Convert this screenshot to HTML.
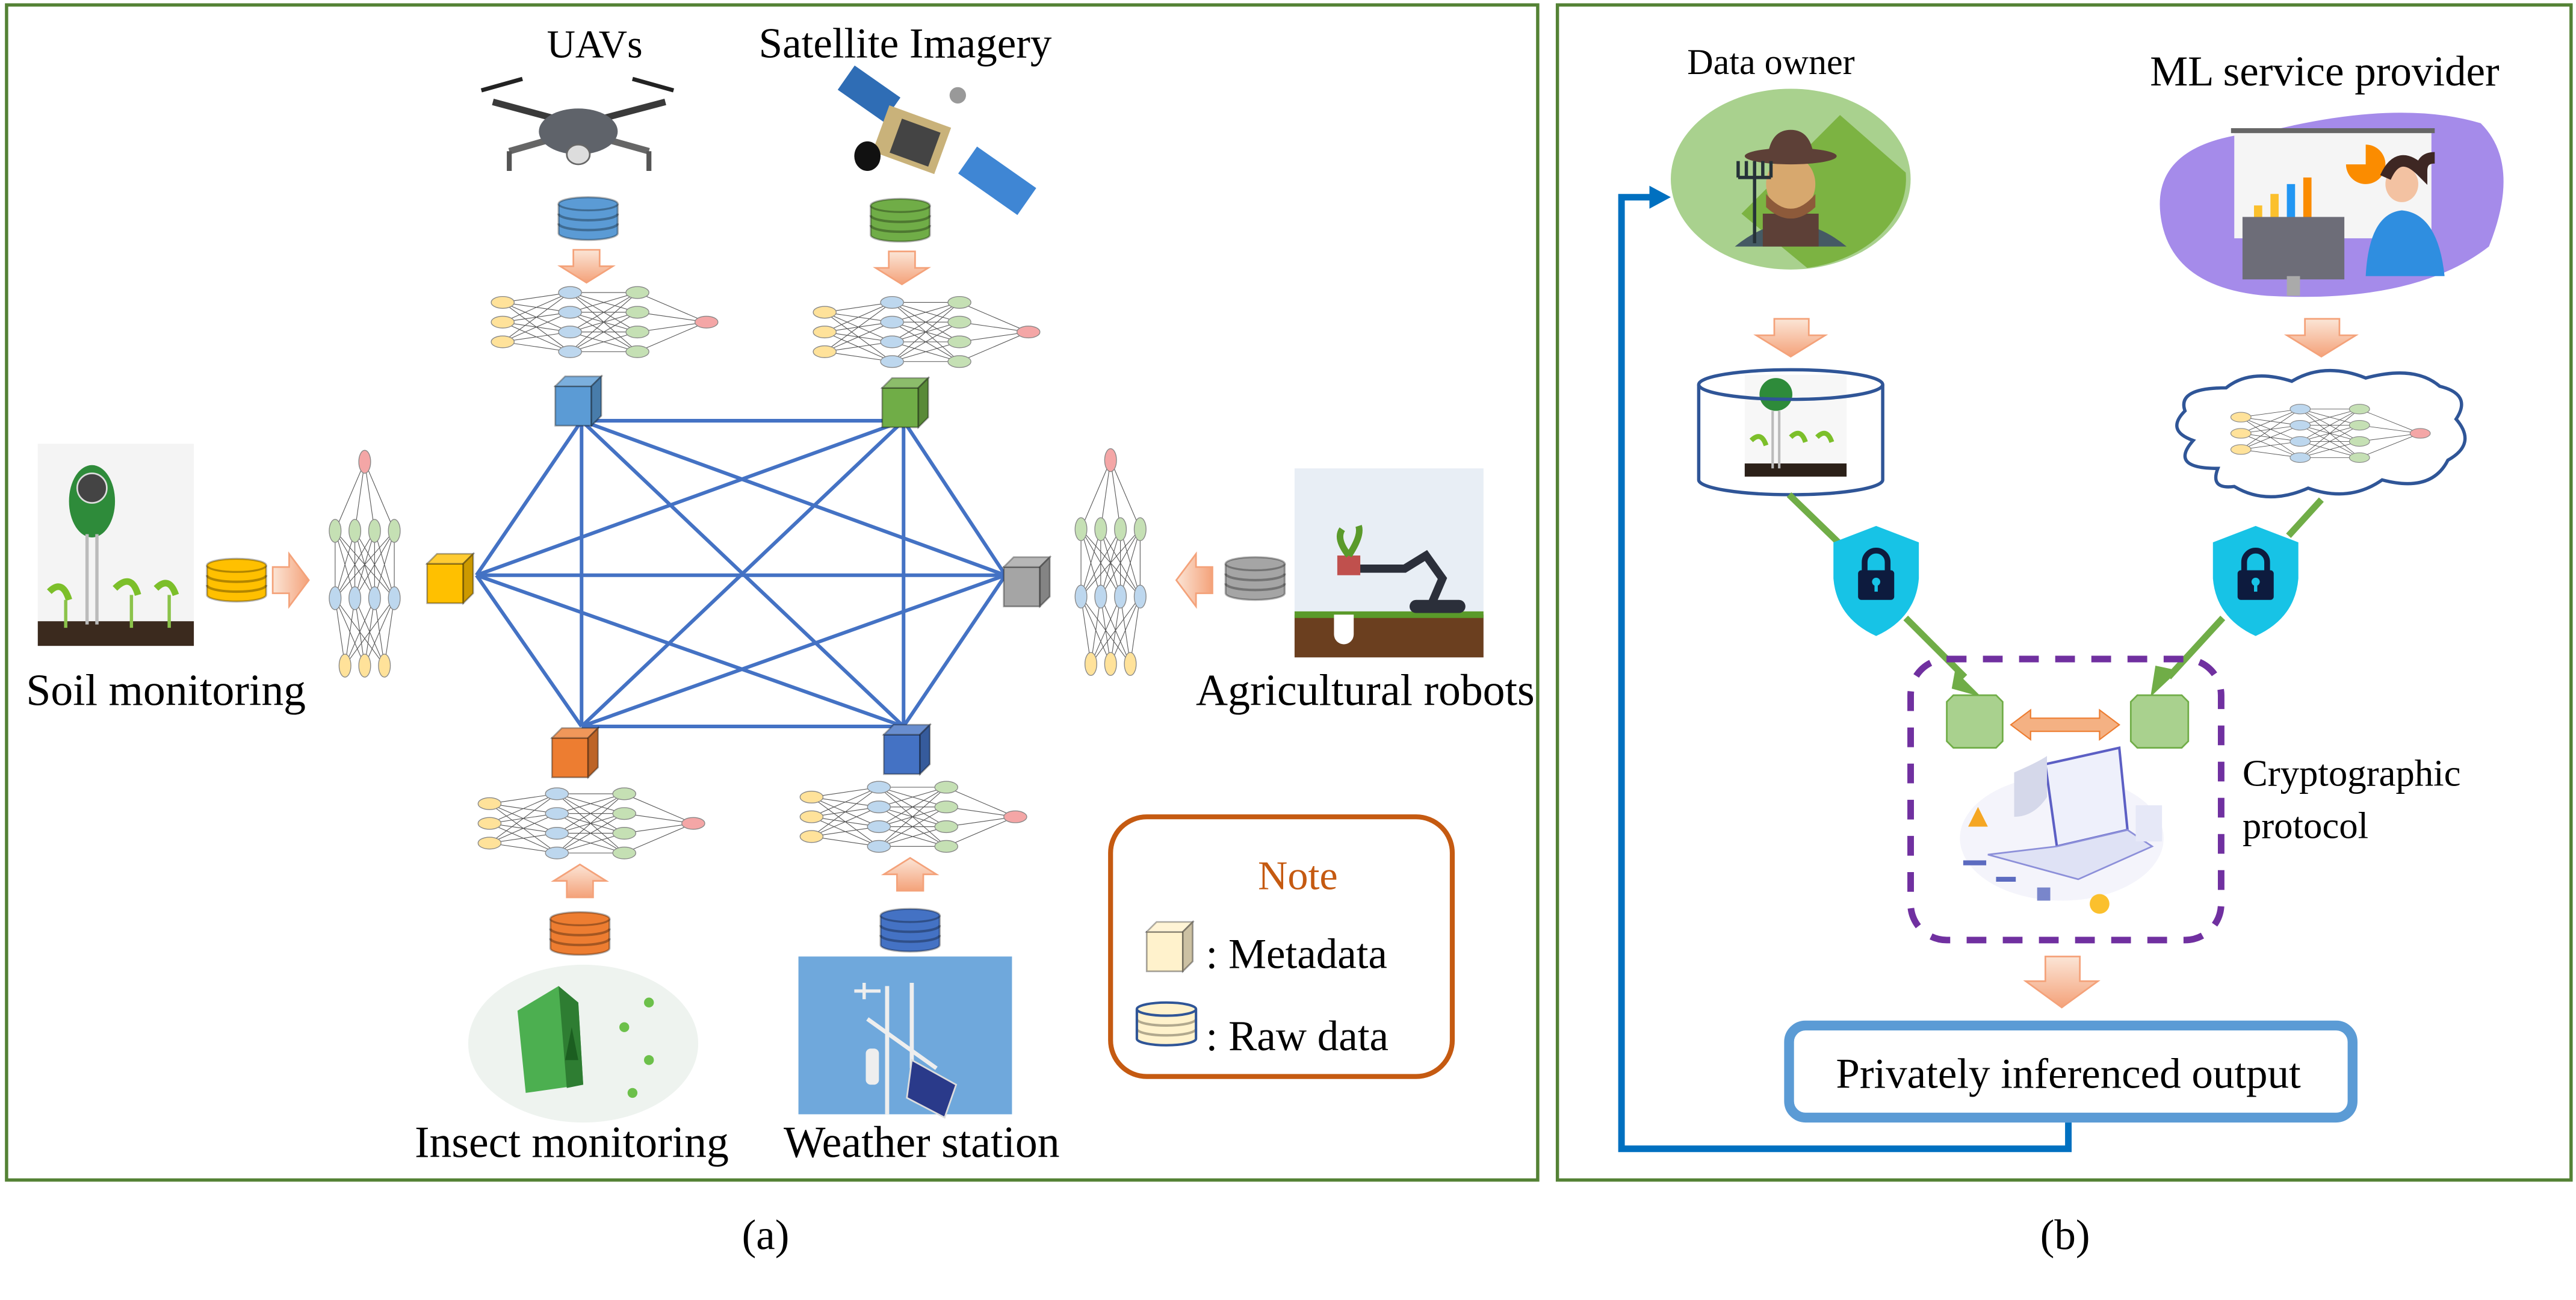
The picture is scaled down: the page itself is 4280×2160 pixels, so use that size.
<!DOCTYPE html>
<html><head><meta charset="utf-8"><style>
html,body{margin:0;padding:0;background:#fff;}
svg{display:block;}
text{font-family:"Liberation Serif",serif;fill:#000;}
</style></head><body>
<svg width="4280" height="2160" viewBox="0 0 1568 791" xmlns="http://www.w3.org/2000/svg" preserveAspectRatio="none">
<defs>
  <linearGradient id="ag" x1="0" y1="0" x2="0" y2="1"><stop offset="0" stop-color="#fbe5d6"/><stop offset="1" stop-color="#f4a27a"/></linearGradient>
  <linearGradient id="agh" x1="0" y1="0" x2="1" y2="0"><stop offset="0" stop-color="#fbe5d6"/><stop offset="1" stop-color="#f4a27a"/></linearGradient>
  <g id="cyl">
    <path d="M0,4 v18 a18,4 0 0 0 36,0 v-18" fill="currentColor" stroke="rgba(0,0,0,0.3)" stroke-width="1.2"/>
    <ellipse cx="18" cy="4" rx="18" ry="4" fill="currentColor" stroke="rgba(0,0,0,0.3)" stroke-width="1.2"/>
    <path d="M0,10 a18,4 0 0 0 36,0 M0,16 a18,4 0 0 0 36,0" fill="none" stroke="rgba(0,0,0,0.3)" stroke-width="1.5"/>
  </g>
  <g id="cube">
    <rect x="0" y="6" width="22" height="24" fill="currentColor" stroke="rgba(0,0,0,0.35)" stroke-width="1"/>
    <path d="M0,6 L6,0 H28 L22,6 Z" fill="currentColor" stroke="rgba(0,0,0,0.35)" stroke-width="1"/>
    <path d="M0,6 L6,0 H28 L22,6 Z" fill="#fff" opacity="0.2"/>
    <path d="M22,6 L28,0 V24 L22,30 Z" fill="currentColor" stroke="rgba(0,0,0,0.35)" stroke-width="1"/>
    <path d="M22,6 L28,0 V24 L22,30 Z" fill="#000" opacity="0.2"/>
  </g>
  <g id="darr"><path d="M8,0 H24 V10 H32 L16,20 L0,10 H8 Z" fill="url(#ag)" stroke="#f4a27a" stroke-width="1"/></g>
  <g id="nn">
    <path fill="none" stroke="#555" stroke-width="0.4" d="M8 12L49 6M8 12L49 18M8 12L49 30M8 12L49 42M8 24L49 6M8 24L49 18M8 24L49 30M8 24L49 42M8 36L49 6M8 36L49 18M8 36L49 30M8 36L49 42M49 6L90 6M49 6L90 18M49 6L90 30M49 6L90 42M49 18L90 6M49 18L90 18M49 18L90 30M49 18L90 42M49 30L90 6M49 30L90 18M49 30L90 30M49 30L90 42M49 42L90 6M49 42L90 18M49 42L90 30M49 42L90 42M90 6L132 24M90 18L132 24M90 30L132 24M90 42L132 24"/>
    <g stroke="#888" stroke-width="0.5">
    <ellipse cx="8" cy="12" rx="7" ry="3.6" fill="#ffe29a"/><ellipse cx="8" cy="24" rx="7" ry="3.6" fill="#ffe29a"/><ellipse cx="8" cy="36" rx="7" ry="3.6" fill="#ffe29a"/>
    <ellipse cx="49" cy="6" rx="7" ry="3.6" fill="#bdd7ee"/><ellipse cx="49" cy="18" rx="7" ry="3.6" fill="#bdd7ee"/><ellipse cx="49" cy="30" rx="7" ry="3.6" fill="#bdd7ee"/><ellipse cx="49" cy="42" rx="7" ry="3.6" fill="#bdd7ee"/>
    <ellipse cx="90" cy="6" rx="7" ry="3.6" fill="#c5e0b4"/><ellipse cx="90" cy="18" rx="7" ry="3.6" fill="#c5e0b4"/><ellipse cx="90" cy="30" rx="7" ry="3.6" fill="#c5e0b4"/><ellipse cx="90" cy="42" rx="7" ry="3.6" fill="#c5e0b4"/>
    <ellipse cx="132" cy="24" rx="7" ry="3.6" fill="#f4a6a6"/>
    </g>
  </g>
</defs>

<rect x="4" y="3" width="932" height="715" fill="none" stroke="#548235" stroke-width="2"/>
<rect x="948" y="3" width="617" height="715" fill="none" stroke="#548235" stroke-width="2"/>
<text x="466" y="760" font-size="26" text-anchor="middle">(a)</text>
<text x="1257" y="760" font-size="26" text-anchor="middle">(b)</text>

<!-- ===== Panel A ===== -->
<text x="362" y="35" font-size="24" text-anchor="middle">UAVs</text>
<text x="551" y="35" font-size="26" text-anchor="middle">Satellite Imagery</text>

<g>
  <path d="M300,62 L352,76 L405,62" stroke="#3a3a3a" stroke-width="4" fill="none"/>
  <path d="M310,92 L352,80 L395,92" stroke="#666" stroke-width="4" fill="none"/>
  <ellipse cx="352" cy="80" rx="24" ry="14" fill="#5f636a"/>
  <ellipse cx="352" cy="94" rx="7" ry="6" fill="#ddd" stroke="#666"/>
  <path d="M293,55 l25,-7 M385,48 l25,7" stroke="#222" stroke-width="2.5"/>
  <path d="M310,92 v12 M395,92 v12" stroke="#555" stroke-width="3"/>
</g>
<g>
  <rect x="512" y="48" width="34" height="18" fill="#2f6db5" transform="rotate(35 529 57)"/>
  <rect x="585" y="100" width="44" height="20" fill="#3f86d4" transform="rotate(35 607 110)"/>
  <rect x="535" y="70" width="40" height="30" fill="#c9b27a" transform="rotate(20 555 85)"/>
  <rect x="545" y="75" width="25" height="22" fill="#444" transform="rotate(20 555 85)"/>
  <ellipse cx="528" cy="95" rx="8" ry="9" fill="#111"/>
  <circle cx="583" cy="58" r="5" fill="#999"/>
</g>

<use href="#cyl" x="340" y="120" color="#5b9bd5"/>
<use href="#cyl" x="530" y="121" color="#70ad47"/>
<use href="#darr" x="341" y="152"/>
<use href="#darr" x="533" y="153"/>
<use href="#nn" x="298" y="172"/>
<use href="#nn" x="494" y="178"/>

<g stroke="#4472c4" stroke-width="2.2">
  <line x1="354" y1="256" x2="550" y2="256"/><line x1="354" y1="256" x2="290" y2="350"/><line x1="354" y1="256" x2="612" y2="350"/><line x1="354" y1="256" x2="354" y2="442"/><line x1="354" y1="256" x2="550" y2="442"/>
  <line x1="550" y1="256" x2="290" y2="350"/><line x1="550" y1="256" x2="612" y2="350"/><line x1="550" y1="256" x2="354" y2="442"/><line x1="550" y1="256" x2="550" y2="442"/>
  <line x1="290" y1="350" x2="612" y2="350"/><line x1="290" y1="350" x2="354" y2="442"/><line x1="290" y1="350" x2="550" y2="442"/>
  <line x1="612" y1="350" x2="354" y2="442"/><line x1="612" y1="350" x2="550" y2="442"/>
  <line x1="354" y1="442" x2="550" y2="442"/>
</g>
<use href="#cube" x="338" y="229" color="#5b9bd5"/>
<use href="#cube" x="537" y="230" color="#70ad47"/>
<use href="#cube" x="260" y="337" color="#ffc000"/>
<use href="#cube" x="611" y="339" color="#a5a5a5"/>
<use href="#cube" x="336" y="443" color="#ed7d31"/>
<use href="#cube" x="538" y="441" color="#4472c4"/>

<rect x="23" y="270" width="95" height="123" fill="#f4f4f4"/>
<rect x="23" y="378" width="95" height="15" fill="#3b2a1e"/>
<ellipse cx="56" cy="305" rx="14" ry="22" fill="#2e8b3a"/>
<circle cx="56" cy="297" r="9" fill="#444" stroke="#ddd"/>
<path d="M53,325 V380 M59,325 V380" stroke="#bbb" stroke-width="2"/>
<path d="M30,360 q8,-8 12,5 M70,358 q10,-10 14,4 M95,358 q8,-8 12,4" stroke="#7cbf2a" stroke-width="4" fill="none"/>
<path d="M40,365 V382 M80,362 V382 M103,362 V382" stroke="#8bc34a" stroke-width="2"/>
<text x="101" y="429" font-size="27" text-anchor="middle">Soil monitoring</text>
<use href="#cyl" x="126" y="340" color="#ffc000"/>
<path d="M166,345 H176 V337 L188,353 L176,369 V361 H166 Z" fill="url(#agh)" stroke="#f4a27a"/>
<use href="#nn" transform="translate(198,413) rotate(-90)"/>

<rect x="788" y="285" width="115" height="115" fill="#e8eef5"/>
<rect x="788" y="374" width="115" height="26" fill="#6b3f1f"/>
<rect x="788" y="372" width="115" height="4" fill="#5a9a2a"/>
<path d="M812,374 v12 a6,6 0 0 0 12,0 v-12 Z" fill="#fff"/>
<path d="M826,346 H855 L868,338 L878,352 L872,366" stroke="#2b2f3a" stroke-width="5" fill="none"/>
<rect x="858" y="365" width="34" height="8" rx="4" fill="#2b2f3a"/>
<rect x="814" y="338" width="14" height="12" fill="#c0504d"/>
<path d="M821,338 q-8,-10 -4,-16 M821,338 q8,-12 6,-18" stroke="#5a9a2a" stroke-width="4" fill="none"/>
<text x="831" y="429" font-size="27" text-anchor="middle">Agricultural robots</text>
<use href="#cyl" x="746" y="339" color="#a5a5a5"/>
<path d="M738,345 H728 V337 L716,353 L728,369 V361 H738 Z" fill="url(#agh)" stroke="#f4a27a"/>
<use href="#nn" transform="translate(652,412) rotate(-90)"/>

<use href="#nn" x="290" y="477"/>
<use href="#nn" x="486" y="473"/>
<path d="M345,546 V536 H337 L353,526 L369,536 H361 V546 Z" fill="url(#ag)" stroke="#f4a27a"/>
<path d="M546,542 V532 H538 L554,522 L570,532 H562 V542 Z" fill="url(#ag)" stroke="#f4a27a"/>
<use href="#cyl" x="335" y="555" color="#ed7d31"/>
<use href="#cyl" x="536" y="553" color="#4472c4"/>

<ellipse cx="355" cy="635" rx="70" ry="48" fill="#eef3ef"/>
<path d="M315,615 L340,600 L352,610 L355,660 L320,665 Z" fill="#4caf50"/>
<path d="M340,600 L352,610 L355,660 L345,662 Z" fill="#2e7d32"/>
<path d="M344,645 L348,625 L352,645 Z" fill="#1b5e20"/>
<circle cx="380" cy="625" r="3" fill="#6cc04a"/><circle cx="395" cy="610" r="3" fill="#6cc04a"/><circle cx="395" cy="645" r="3" fill="#6cc04a"/><circle cx="385" cy="665" r="3" fill="#6cc04a"/>
<text x="348" y="704" font-size="27" text-anchor="middle">Insect monitoring</text>

<rect x="486" y="582" width="130" height="96" fill="#6fa8dc"/>
<path d="M540,600 V678 M528,620 L570,650 M555,598 V650" stroke="#eee" stroke-width="2.5" fill="none"/>
<rect x="527" y="638" width="8" height="22" rx="3" fill="#eee"/>
<path d="M555,645 L582,660 L575,680 L552,668 Z" fill="#2a3a8a" stroke="#ddd"/>
<path d="M520,603 h16 M526,598 v10" stroke="#eee" stroke-width="2"/>
<text x="561" y="704" font-size="27" text-anchor="middle">Weather station</text>

<rect x="676" y="497" width="208" height="158" rx="22" fill="#fff" stroke="#c55a11" stroke-width="3"/>
<text x="790" y="541" font-size="25" text-anchor="middle" style="fill:#c55a11">Note</text>
<use href="#cube" x="698" y="561" color="#fff2cc"/>
<text x="734" y="589" font-size="26">:  Metadata</text>
<g transform="translate(692,610)"><use href="#cyl" color="#fff2cc"/></g>
<path d="M692,614 v18 a18,4 0 0 0 36,0 v-18 M692,614 a18,4 0 0 0 36,0 a18,4 0 0 0 -36,0" fill="none" stroke="#2f5597" stroke-width="1.5"/>
<text x="734" y="639" font-size="26">: Raw data</text>

<!-- ===== Panel B ===== -->
<text x="1078" y="45" font-size="22" text-anchor="middle">Data owner</text>
<text x="1415" y="52" font-size="26" text-anchor="middle">ML service provider</text>

<ellipse cx="1090" cy="109" rx="73" ry="55" fill="#a9d18e"/>
<path d="M1120,70 L1160,105 A73,55 0 0 1 1100,163 L1060,130 Z" fill="#7cb342"/>
<path d="M1056,150 q34,-28 68,0 Z" fill="#455a64"/>
<rect x="1073" y="130" width="34" height="20" fill="#5d4037"/>
<ellipse cx="1090" cy="112" rx="15" ry="17" fill="#d7a86e"/>
<path d="M1075,118 q15,18 30,0 v8 q-15,14 -30,0 Z" fill="#8d5a3a"/>
<ellipse cx="1090" cy="95" rx="28" ry="5" fill="#5d4037"/>
<path d="M1076,95 q2,-16 14,-16 q12,0 14,16 Z" fill="#5d4037"/>
<path d="M1068,148 V108 M1058,108 h20 M1058,108 v-10 M1063,108 v-10 M1068,108 v-10 M1073,108 v-10 M1078,108 v-10" stroke="#263238" stroke-width="2" fill="none"/>

<path d="M1315,130 Q1310,85 1380,80 Q1460,60 1510,75 Q1535,100 1515,150 Q1470,185 1380,180 Q1320,175 1315,130 Z" fill="#a58bea"/>
<rect x="1360" y="80" width="120" height="65" fill="#f5f5f5"/>
<rect x="1358" y="78" width="124" height="3" fill="#666"/>
<rect x="1372" y="125" width="5" height="10" fill="#fbc02d"/><rect x="1382" y="118" width="5" height="17" fill="#fbc02d"/><rect x="1392" y="112" width="5" height="23" fill="#2196f3"/><rect x="1402" y="108" width="5" height="27" fill="#fb8c00"/>
<path d="M1440,100 L1440,88 A12,12 0 1 1 1428,100 Z" fill="#fb8c00"/>
<rect x="1365" y="132" width="62" height="38" fill="#6d6d78"/>
<rect x="1392" y="168" width="8" height="12" fill="#aaa"/>
<ellipse cx="1462" cy="112" rx="10" ry="11" fill="#f3c2a2"/>
<path d="M1452,108 q8,-18 22,-4 q0,-8 8,-8" stroke="#3e2723" stroke-width="7" fill="none"/>
<path d="M1440,168 q2,-38 22,-40 q22,2 26,40 Z" fill="#2f8ee0"/>

<path d="M1080,194 H1101 V204 H1111 L1090,217 L1069,204 H1080 Z" fill="url(#ag)" stroke="#f4a27a"/>
<path d="M1403,194 H1424 V204 H1434 L1413,217 L1392,204 H1403 Z" fill="url(#ag)" stroke="#f4a27a"/>

<path d="M1034,234 v58 a56,9 0 0 0 112,0 v-58" fill="#fff" stroke="#2f5597" stroke-width="2"/>
<rect x="1062" y="228" width="62" height="62" fill="#f7f7f7"/>
<rect x="1062" y="282" width="62" height="8" fill="#2b2018"/>
<ellipse cx="1081" cy="240" rx="10" ry="10" fill="#2e8b3a"/>
<path d="M1079,250 V285 M1083,250 V285" stroke="#bbb" stroke-width="1.5"/>
<path d="M1066,268 q6,-6 9,3 M1090,266 q6,-6 9,3 M1106,266 q6,-6 9,3" stroke="#7cbf2a" stroke-width="3" fill="none"/>
<ellipse cx="1090" cy="234" rx="56" ry="9" fill="none" stroke="#2f5597" stroke-width="2"/>

<path d="M1350,285 Q1320,285 1335,268 Q1318,262 1330,250 Q1325,236 1355,236 Q1370,224 1395,232 Q1415,220 1440,230 Q1470,222 1485,235 Q1505,240 1495,255 Q1508,270 1490,280 Q1480,300 1450,292 Q1430,306 1405,297 Q1380,308 1360,296 Q1345,298 1350,285 Z" fill="#fff" stroke="#2f5597" stroke-width="2"/>
<use href="#nn" transform="translate(1357,244) scale(0.88,0.82)"/>

<g stroke="#70ad47" stroke-width="4" fill="none">
  <line x1="1089" y1="301" x2="1119" y2="330"/>
  <line x1="1160" y1="376" x2="1196" y2="412"/>
  <line x1="1413" y1="304" x2="1393" y2="326"/>
  <line x1="1353" y1="376" x2="1320" y2="412"/>
</g>
<path d="M1190,408 L1206,424 L1188,419 Z" fill="#70ad47"/>
<path d="M1326,408 L1309,424 L1312,405 Z" fill="#70ad47"/>
<g>
  <path d="M1142,320 L1168,330 V352 Q1166,376 1142,387 Q1118,376 1116,352 V330 Z" fill="#17c3e6"/>
  <rect x="1131" y="347" width="22" height="18" rx="2" fill="#0d1b3e"/>
  <path d="M1135,348 v-6 a7,7 0 0 1 14,0 v6" stroke="#0d1b3e" stroke-width="3.5" fill="none"/>
  <circle cx="1142" cy="354" r="2.5" fill="#17c3e6"/><rect x="1141" y="355" width="2" height="5" fill="#17c3e6"/>
</g>
<g transform="translate(231,0)">
  <path d="M1142,320 L1168,330 V352 Q1166,376 1142,387 Q1118,376 1116,352 V330 Z" fill="#17c3e6"/>
  <rect x="1131" y="347" width="22" height="18" rx="2" fill="#0d1b3e"/>
  <path d="M1135,348 v-6 a7,7 0 0 1 14,0 v6" stroke="#0d1b3e" stroke-width="3.5" fill="none"/>
  <circle cx="1142" cy="354" r="2.5" fill="#17c3e6"/><rect x="1141" y="355" width="2" height="5" fill="#17c3e6"/>
</g>

<rect x="1163" y="401" width="189" height="171" rx="22" fill="none" stroke="#7030a0" stroke-width="4" stroke-dasharray="12,10"/>
<path d="M1189,423 H1215 L1219,427 V451 L1215,455 H1189 L1185,451 V427 Z" fill="#a9d18e" stroke="#70ad47"/>
<path d="M1301,423 H1328 L1332,427 V451 L1328,455 H1301 L1297,451 V427 Z" fill="#a9d18e" stroke="#70ad47"/>
<path d="M1224,441 L1236,432 V437 H1278 V432 L1290,441 L1278,450 V445 H1236 V450 Z" fill="#f4b183" stroke="#ed7d31" stroke-width="0.8"/>
<g>
  <ellipse cx="1255" cy="510" rx="62" ry="38" fill="#f4f4fb"/>
  <path d="M1245,465 L1290,455 L1295,505 L1252,515 Z" fill="#eef0fb" stroke="#5c5fc4" stroke-width="1.5"/>
  <path d="M1210,520 L1252,515 L1295,505 L1310,515 L1265,535 Z" fill="#dfe2f5" stroke="#8c8fd9"/>
  <path d="M1226,470 q14,-6 20,-10 v25 q-8,12 -20,12 Z" fill="#d5d8ea"/>
  <path d="M1198,503 l6,-12 l6,12 Z" fill="#f5a623"/>
  <path d="M1195,525 h14 M1215,535 h12" stroke="#5c6bc0" stroke-width="3"/>
  <circle cx="1278" cy="550" r="6" fill="#fbc02d"/>
  <rect x="1300" y="490" width="16" height="22" fill="#e6e8f7"/>
  <rect x="1240" y="540" width="8" height="8" fill="#7986cb"/>
</g>
<text x="1365" y="478" font-size="23">Cryptographic</text>
<text x="1365" y="510" font-size="23">protocol</text>

<path d="M1245,582 H1266 V597 H1277 L1255,613 L1233,597 H1245 Z" fill="url(#ag)" stroke="#f4a27a"/>

<rect x="1089" y="624" width="343" height="56" rx="10" fill="#fff" stroke="#5b9bd5" stroke-width="6"/>
<text x="1259" y="662" font-size="26" text-anchor="middle">Privately inferenced output</text>

<path d="M1259,683 V699 H987 V120 H1006" fill="none" stroke="#0070c0" stroke-width="4"/>
<path d="M1004,113 L1017,120 L1004,127 Z" fill="#0070c0"/>
</svg>
</body></html>
